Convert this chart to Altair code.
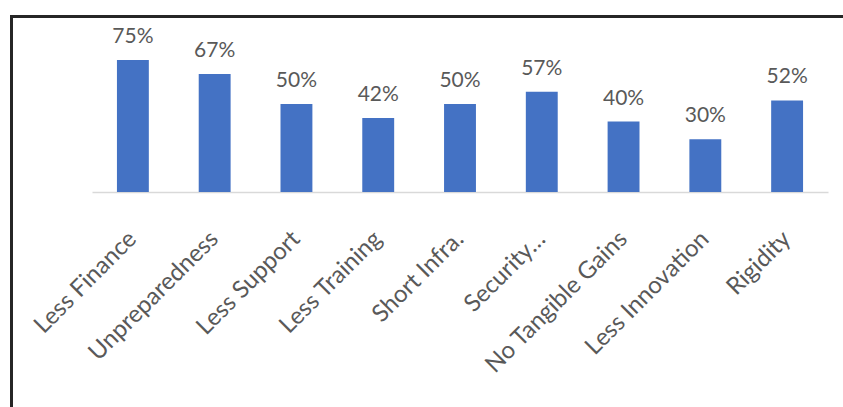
import altair as alt
import pandas as pd

categories = ["Less Finance", "Unpreparedness", "Less Support", "Less Training",
              "Short Infra.", "Security…", "No Tangible Gains", "Less Innovation", "Rigidity"]
values = [75, 67, 50, 42, 50, 57, 40, 30, 52]

df = pd.DataFrame({"category": categories, "value": values})
df["label"] = [f"{v}%" for v in values]

FONT = "Lato"
GRAY = "#595959"

x_enc = alt.X("category:N", sort=categories,
              scale=alt.Scale(paddingInner=0.61, paddingOuter=0.305),
              axis=alt.Axis(title=None, ticks=False, labelAngle=-45, labelAlign="right",
                            labelBaseline="middle", labelPadding=43, labelFontSize=24,
                            labelFont=FONT, labelColor=GRAY, labelLimit=400,
                            domainColor="#d9d9d9", domainWidth=1.5, grid=False))
y_enc = alt.Y("value:Q", scale=alt.Scale(domain=[0, 100], nice=False), axis=None)

base = alt.Chart(df)
bars = base.mark_bar(color="#4472C4").encode(x=x_enc, y=y_enc)
texts = base.mark_text(fontSize=21, font=FONT, color=GRAY, dy=-17,
                       baseline="alphabetic", align="center").encode(
    x=alt.X("category:N", sort=categories), y="value:Q", text="label:N")

border = alt.Chart(pd.DataFrame({"a": [0]})).mark_rect(
    fill=None, stroke="#262626", strokeWidth=3, clip=False).encode(
    x=alt.value(-80.5), x2=alt.value(800), y=alt.value(0.5), y2=alt.value(450))

chart = alt.layer(bars, texts, border).properties(
    width=736, height=176,
    autosize=alt.AutoSizeParams(type="none"),
    padding={"left": 92, "top": 16, "right": 15, "bottom": 215},
    background="white",
).configure_view(stroke=None)

chart.save("out.html", embed_options={"renderer": "svg", "actions": False})
